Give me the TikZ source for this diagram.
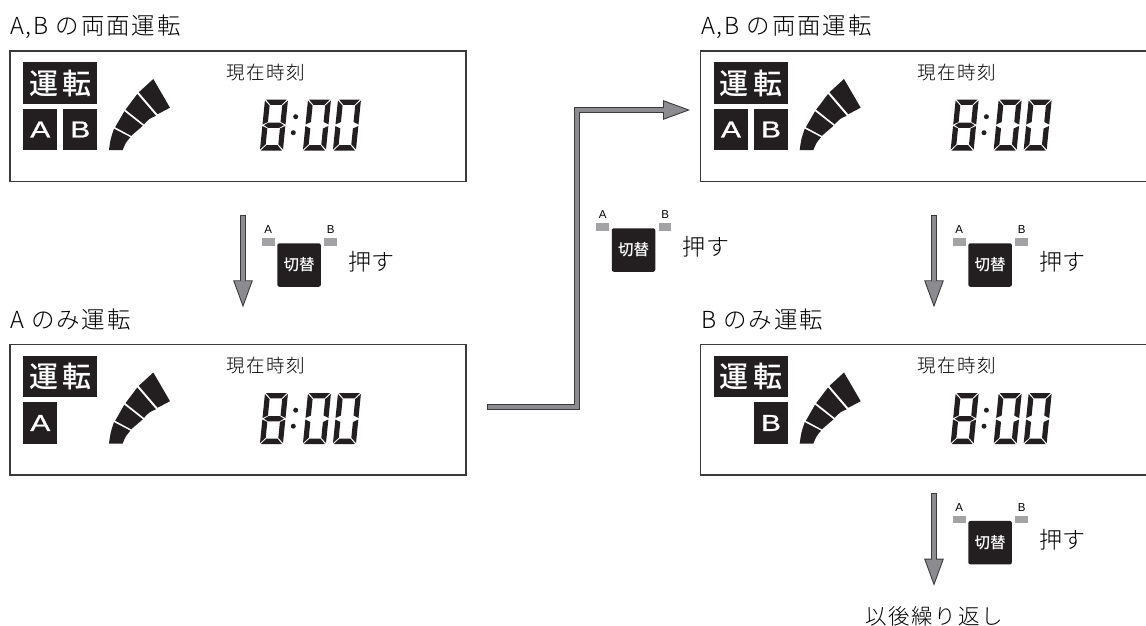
\documentclass[tikz,border=0pt]{standalone}
\usepackage{graphicx}
\usepackage{fontspec}
\usetikzlibrary{arrows.meta}
\setsansfont{Liberation Sans}
\newfontfamily\jpfont[LetterSpace=8]{Noto Sans CJK JP Light}
\newfontfamily\pressfont[LetterSpace=3]{Noto Sans CJK JP Light}
\newfontfamily\runfont[LetterSpace=14]{Noto Sans CJK JP Medium}
\newfontfamily\keyfont{Noto Sans CJK JP Medium}
\newfontfamily\modefont[FakeBold=0.8]{Liberation Sans}
\definecolor{lcdblack}{HTML}{231F20}
\definecolor{framecol}{HTML}{3A3A3C}
\definecolor{flowcol}{HTML}{8B8B90}
\definecolor{ledcol}{HTML}{A3A3A6}
\tikzset{
  headtext/.style={anchor=base west,inner sep=0,font=\jpfont\fontsize{23.5}{23.5}\selectfont},
  clocktext/.style={inner sep=0,font=\jpfont\fontsize{18.5}{18.5}\selectfont},
  presstext/.style={anchor=west,inner sep=0,font=\pressfont\fontsize{23}{23}\selectfont},
  panelbox/.style={draw=framecol,line width=1.2pt,fill=white,minimum width=456pt,minimum height=130.5pt,inner sep=0},
  runbox/.style={fill=lcdblack,text=white,minimum width=74pt,minimum height=41.5pt,inner sep=0,font=\runfont\fontsize{29}{29}\selectfont},
  modebox/.style={fill=lcdblack,text=white,minimum width=34pt,minimum height=41.5pt,inner sep=0,font=\modefont\fontsize{23}{23}\selectfont},
  keybox/.style={fill=lcdblack,text=white,rounded corners=2pt,minimum size=43.5pt,inner sep=0,font=\keyfont\fontsize{15.5}{15.5}\selectfont},
  ledbox/.style={fill=ledcol,minimum width=12.5pt,minimum height=7.4pt,inner sep=0},
  ledtext/.style={inner sep=0,font=\sffamily\fontsize{11.5}{11.5}\selectfont},
  flowline/.style={flowcol,line width=4.2pt,shorten >=26pt,shorten <=0.9pt,
    preaction={draw=framecol,line width=6.2pt,shorten >=0pt,shorten <=0pt,
      -{Triangle[length=27pt,width=19.5pt,fill=flowcol,line width=0.9pt]}}},
  pics/lcdzero/.style={code={
    \fill[lcdblack,xslant=0.1]
      (1,0) -- (22,0) -- (17,5.4) -- (6,5.4) -- cycle
      (1,51) -- (22,51) -- (17,45.6) -- (6,45.6) -- cycle
      (0,1) -- (5.2,6.2) -- (5.2,22.5) -- (0,25) -- cycle
      (0,26.5) -- (5.2,29) -- (5.2,44.8) -- (0,50) -- cycle
      (23,1) -- (17.8,6.2) -- (17.8,22.5) -- (23,25) -- cycle
      (23,26.5) -- (17.8,29) -- (17.8,44.8) -- (23,50) -- cycle;
  }},
  pics/lcdeight/.style={code={
    \pic {lcdzero};
    \fill[lcdblack,xslant=0.1]
      (1.5,25.7) -- (6,23) -- (17,23) -- (21.5,25.7) -- (17,28.4) -- (6,28.4) -- cycle;
  }},
  pics/lcdpanel/.style={code={
    \node[panelbox] (-frame) at (238,116.2) {};
    \node[runbox] (-run) at (60.3,83) {運転};
    \node[clocktext] (-clock) at (265.8,72.5) {現在時刻};
    \fill[lcdblack]
      (109,150) .. controls (110.5,139) .. (114,128.7) -- (130.3,137.2) .. controls (125.5,143) .. (122.7,150) -- cycle
      (115.2,127.2) .. controls (119,119) .. (124.3,111.3) -- (142.8,125.8) .. controls (136.5,130) .. (131.2,135.8) -- cycle
      (125.5,109.6) .. controls (131,101) .. (137.3,94) -- (156,115.8) .. controls (149.5,118.5) .. (144,124.3) -- cycle
      (138.8,92.3) .. controls (145.5,85) .. (153.3,79) -- (170,107.7) .. controls (163.5,110) .. (157.6,114.2) -- cycle;
    \pic at (265,99.5) {lcdeight};
    \pic at (308,99.5) {lcdzero};
    \pic at (338,99.5) {lcdzero};
    \fill[lcdblack]
      (295.7,116.7) circle (2.5)
      (293.3,132.7) circle (2.5);
  }},
  pics/switchkey/.style={code={
    \node[keybox] (-key) at (21.8,21.7) {切替};
    \node[ledbox] (-ledA) at (-9,-1.3) {};
    \node[ledbox] (-ledB) at (53.4,-1.3) {};
    \node[ledtext] at (-9,-13.3) {A};
    \node[ledtext] at (53.4,-13.3) {B};
    \node[presstext] (-press) at (70.7,18.4) {押す};
  }}
}

\begin{document}
\begin{tikzpicture}[x=1pt,y=-1pt]
  \useasboundingbox (0,0) rectangle (1146,626);
  \clip (0,0) rectangle (1146,626);

  \node[headtext] (headAB) at (10,35) {A,B の両面運転};
  \node[headtext] (headA) at (10,328.5) {A のみ運転};
  \node[headtext] (headABr) at (701,35) {A,B の両面運転};
  \node[headtext] (headB) at (701,328.5) {B のみ運転};

  \pic (panelAB) at (0,0) {lcdpanel};
  \pic (panelA) at (0,293.5) {lcdpanel};
  \pic (panelABr) at (690.7,0) {lcdpanel};
  \pic (panelB) at (690.7,293.5) {lcdpanel};

  \node[modebox] (modeA1) at (40.3,129.5) {\scalebox{1.3}[1]{A}};
  \node[modebox] (modeB1) at (80.3,129.5) {\scalebox{1.3}[1]{B}};
  \node[modebox] (modeA2) at (40.3,423) {\scalebox{1.3}[1]{A}};
  \node[modebox] (modeA3) at (731,129.5) {\scalebox{1.3}[1]{A}};
  \node[modebox] (modeB3) at (771,129.5) {\scalebox{1.3}[1]{B}};
  \node[modebox] (modeB4) at (771,423) {\scalebox{1.3}[1]{B}};

  \coordinate (flow1s) at (243,215.3);
  \coordinate (flow1e) at (243,307.3);
  \coordinate (flow2s) at (487.3,406.7);
  \coordinate (flow2m) at (576.7,110);
  \coordinate (flow2e) at (690,110);
  \coordinate (flow3s) at (934,215.3);
  \coordinate (flow3e) at (934,307.3);
  \coordinate (flow4s) at (934,493.3);
  \coordinate (flow4e) at (934,585.7);

  \draw[flowline]
    (flow1s) -- (flow1e);
  \draw[flowline]
    (flow2s) -| (flow2m) -- (flow2e);
  \draw[flowline]
    (flow3s) -- (flow3e);
  \draw[flowline]
    (flow4s) -- (flow4e);

  \pic (key1) at (277.3,243.3) {switchkey};
  \pic (key2) at (611.7,228.3) {switchkey};
  \pic (key3) at (968.3,243.3) {switchkey};
  \pic (key4) at (968.3,521) {switchkey};

  \node[inner sep=0,font=\jpfont\fontsize{21.5}{21.5}\selectfont] (repeat) at (934,616) {以後繰り返し};
\end{tikzpicture}
\end{document}
